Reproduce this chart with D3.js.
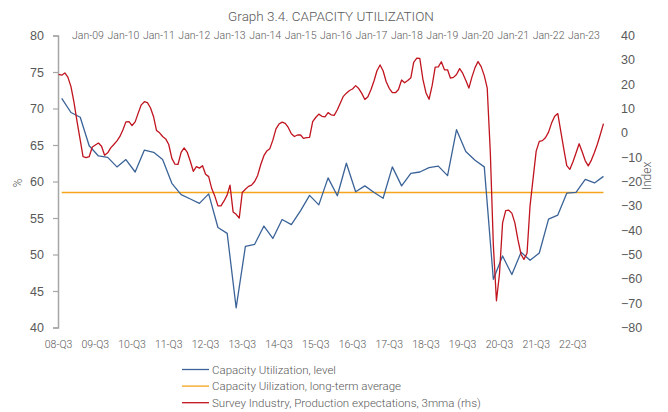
<!DOCTYPE html>
<html>
<head>
<meta charset="utf-8">
<script src="https://cdn.jsdelivr.net/npm/d3@7"></script>
<style>
  body { margin: 0; background: #fff; }
  svg { font-family: Roboto, 'Liberation Sans', sans-serif; font-weight: 300; }
  .lbl { fill: #595959; }
</style>
</head>
<body>
<svg id="chart" width="668" height="412"></svg>
<script>
// quarterly capacity utilization, 2008-Q3 .. 2023-Q2
const cuStart = [2008, 3]
const cuLevel = [
  71.4, 69.45, 68.8, 64.9, 63.5, 63.3, 62.0, 63.0, 61.3, 64.3,
  64.0, 63.0, 59.75, 58.2, 57.6, 57.0, 58.3, 53.7, 52.9, 42.7,
  51.1, 51.4, 53.9, 52.2, 54.8, 54.1, 56.0, 58.1, 56.8, 60.5,
  58.05, 62.5, 58.6, 59.4, 58.5, 57.7, 62.0, 59.4, 61.1, 61.3,
  61.9, 62.1, 60.8, 67.1, 64.1, 62.9, 62.0, 46.6, 49.8, 47.25,
  50.3, 49.2, 50.2, 54.85, 55.4, 58.4, 58.5, 60.3, 59.8, 60.7
]
const cuAverage = 58.5

// monthly production expectations (3mma), Jul-2008 .. May-2023
const peStart = [2008, 7]
const prodExp = [
  24.0, 23.7, 24.6, 22.9, 19.0, 12.5, 4.5, -3.0, -9.8, -10.2,
  -9.8, -5.8, -5.0, -4.2, -5.5, -9.2, -8.2, -6.2, -4.8, -3.3,
  -1.6, 1.2, 4.5, 4.6, 3.0, 4.5, 8.2, 11.5, 12.8, 12.4,
  10.2, 6.5, 1.0, 0.0, -1.5, -2.5, -4.8, -10.5, -12.9, -13.0,
  -8.0, -6.2, -8.0, -11.8, -15.8, -13.9, -14.5, -13.5, -17.0, -18.0,
  -23.0, -26.0, -30.0, -30.0, -28.0, -25.5, -21.5, -32.5, -33.5, -35.0,
  -24.5, -23.2, -22.0, -21.5, -20.0, -17.5, -13.0, -9.4, -7.5, -6.5,
  -3.0, 1.6, 3.6, 4.4, 3.9, 2.2, -0.4, -1.5, -0.9, -0.9,
  -2.3, -2.0, -1.9, 4.6, 6.3, 7.7, 6.8, 6.6, 8.3, 7.4,
  7.2, 9.5, 12.2, 15.0, 16.3, 17.4, 18.0, 19.4, 18.2, 16.2,
  13.7, 14.8, 17.8, 21.5, 25.5, 27.9, 25.5, 21.0, 18.3, 16.5,
  16.5, 17.8, 21.7, 20.6, 21.5, 22.6, 29.0, 30.7, 30.6, 22.0,
  16.5, 13.8, 19.5, 27.0, 27.1, 29.2, 25.9, 25.9, 22.5, 22.8,
  24.0, 26.4, 24.5, 21.6, 18.4, 22.9, 26.8, 29.3, 27.2, 23.5,
  18.5, -8.0, -46.0, -69.0, -58.0, -37.0, -32.0, -31.8, -33.0, -37.0,
  -44.0, -50.0, -52.0, -49.5, -30.0, -18.5, -7.5, -3.5, -3.2, -2.0,
  0.3, 4.0, 6.8, 7.9, 1.0, -6.5, -13.5, -15.0, -12.0, -8.3,
  -4.5, -7.8, -11.5, -13.6, -11.2, -8.0, -4.7, -0.5, 3.8
]

const topLabels = d3.range(2009, 2024).map(y => 'Jan-' + String(y).slice(2))
const bottomYears = d3.range(2008, 2023)
const bottomLabels = bottomYears.map(y => String(y).slice(2) + '-Q3')
const leftTicks = d3.range(40, 81, 5)
const rightTicks = d3.range(-80, 41, 10)

const legendItems = [
  { name: 'Capacity Utilization, level', color: '#3b6398' },
  { name: 'Capacity Uilization, long-term average', color: '#f5a41d' },
  { name: 'Survey Industry, Production expectations, 3mma (rhs)', color: '#c0141f' }
]

// mid-month of each quarter / 15th of each month
const quarterDate = i => new Date(cuStart[0], (cuStart[1] - 1) * 3 + 1 + i * 3, 15)
const monthDate = i => new Date(peStart[0], peStart[1] - 1 + i, 15)

const svg = d3.select('#chart')

const x = d3.scaleTime()
  .domain([new Date(2008, 6, 1), new Date(2023, 6, 1)])
  .range([57.2, 608.2])
const xTop = d3.scalePoint()
  .domain(topLabels)
  .range([88, 584])
const yL = d3.scaleLinear().domain([40, 80]).range([327.5, 35.5])
const yR = d3.scaleLinear().domain([-80, 40]).range([327.5, 35.5])

// title
svg.append('text')
  .attr('class', 'lbl')
  .attr('x', 331)
  .attr('y', 21)
  .attr('text-anchor', 'middle')
  .attr('font-size', 13.5)
  .text('Graph 3.4. CAPACITY UTILIZATION')

// left axis
const leftAxis = d3.axisLeft(yL).tickValues(leftTicks).tickSize(5).tickPadding(9)
const gL = svg.append('g')
  .attr('transform', 'translate(58,0)')
  .call(leftAxis)
gL.select('.domain').attr('stroke', '#a6a6a6').attr('stroke-width', 1.5)
gL.selectAll('.tick line').attr('stroke', '#a6a6a6').attr('stroke-width', 1.2)
gL.selectAll('.tick text').attr('fill', '#595959').attr('font-size', 12.5).attr('font-family', null)

// right axis (labels only)
const rightAxis = d3.axisRight(yR).tickValues(rightTicks).tickSize(0).tickPadding(0)
const gR = svg.append('g')
  .attr('transform', 'translate(621,0)')
  .call(rightAxis)
gR.select('.domain').remove()
gR.selectAll('.tick text').attr('fill', '#595959').attr('font-size', 12.5).attr('font-family', null)

// top date labels
svg.append('g')
  .selectAll('text')
  .data(topLabels)
  .join('text')
    .attr('class', 'lbl')
    .attr('x', d => xTop(d))
    .attr('y', 39)
    .attr('text-anchor', 'middle')
    .attr('font-size', 10.5)
    .text(d => d)

// bottom quarter labels
svg.append('g')
  .selectAll('text')
  .data(bottomLabels)
  .join('text')
    .attr('class', 'lbl')
    .attr('x', (d, i) => x(new Date(bottomYears[i], 6, 15)))
    .attr('y', 348)
    .attr('text-anchor', 'middle')
    .attr('font-size', 10.5)
    .text(d => d)

// axis titles
svg.append('text')
  .attr('class', 'lbl')
  .attr('transform', 'translate(22,183) rotate(-90)')
  .attr('text-anchor', 'middle')
  .attr('font-size', 12)
  .text('%')
svg.append('text')
  .attr('class', 'lbl')
  .attr('transform', 'translate(651,176) rotate(-90)')
  .attr('text-anchor', 'middle')
  .attr('font-size', 12)
  .text('Index')

// series
const lineL = d3.line().x(d => x(d.date)).y(d => yL(d.value))
const lineR = d3.line().x(d => x(d.date)).y(d => yR(d.value))

const cuData = cuLevel.map((v, i) => ({ date: quarterDate(i), value: v }))
const avgData = [cuData[0], cuData[cuData.length - 1]].map(d => ({ date: d.date, value: cuAverage }))
const peData = prodExp.map((v, i) => ({ date: monthDate(i), value: v }))

svg.append('path')
  .datum(avgData)
  .attr('fill', 'none')
  .attr('stroke', legendItems[1].color)
  .attr('stroke-width', 1.6)
  .attr('d', lineL)

svg.append('path')
  .datum(cuData)
  .attr('fill', 'none')
  .attr('stroke', legendItems[0].color)
  .attr('stroke-width', 1.3)
  .attr('stroke-linejoin', 'round')
  .attr('d', lineL)

svg.append('path')
  .datum(peData)
  .attr('fill', 'none')
  .attr('stroke', legendItems[2].color)
  .attr('stroke-width', 1.3)
  .attr('stroke-linejoin', 'round')
  .attr('d', lineR)

// legend
const lg = svg.append('g')
  .selectAll('g')
  .data(legendItems)
  .join('g')
    .attr('transform', (d, i) => `translate(182,${369.5 + i * 16.6})`)
lg.append('line')
  .attr('x1', 0).attr('x2', 27)
  .attr('stroke', d => d.color)
  .attr('stroke-width', 1.3)
lg.append('text')
  .attr('class', 'lbl')
  .attr('x', 30)
  .attr('y', 4)
  .attr('font-size', 11.5)
  .text(d => d.name)
</script>
</body>
</html>
